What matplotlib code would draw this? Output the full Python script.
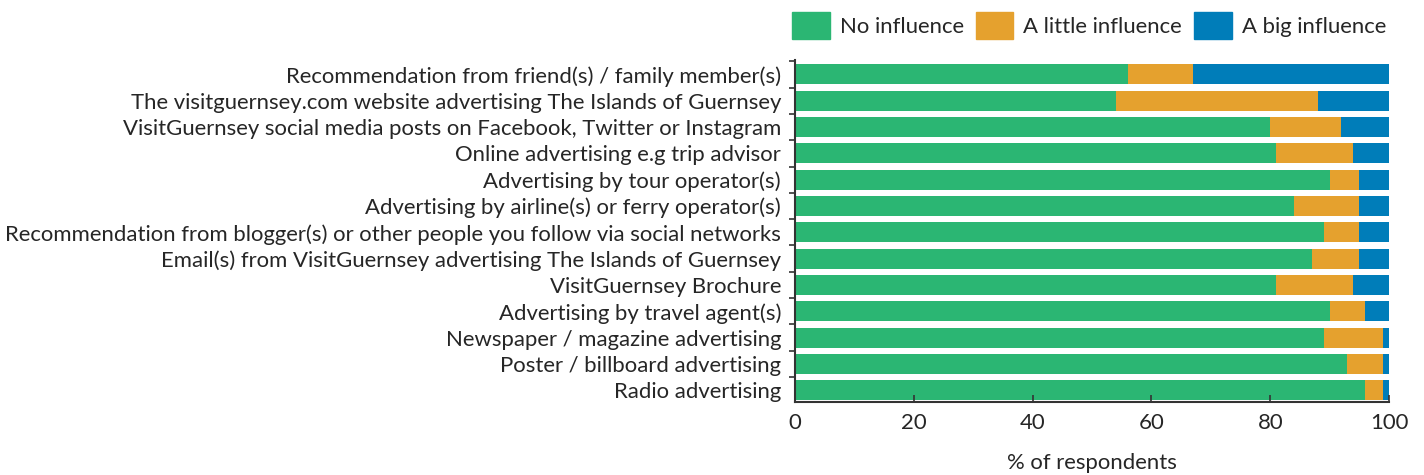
import numpy as np
import matplotlib.pyplot as plt
from matplotlib.patches import Patch

plt.rcParams['font.family'] = ['Lato', 'DejaVu Sans']

#categories, top to bottom
labels = ['Recommendation from friend(s) / family member(s)',
          'The visitguernsey.com website advertising The Islands of Guernsey',
          'VisitGuernsey social media posts on Facebook, Twitter or Instagram',
          'Online advertising e.g trip advisor',
          'Advertising by tour operator(s)',
          'Advertising by airline(s) or ferry operator(s)',
          'Recommendation from blogger(s) or other people you follow via social networks',
          'Email(s) from VisitGuernsey advertising The Islands of Guernsey',
          'VisitGuernsey Brochure',
          'Advertising by travel agent(s)',
          'Newspaper / magazine advertising',
          'Poster / billboard advertising',
          'Radio advertising']

#% of respondents
no_infl = [56, 54, 80, 81, 90, 84, 89, 87, 81, 90, 89, 93, 96]
little_infl = [11, 34, 12, 13, 5, 11, 6, 8, 13, 6, 10, 6, 3]
big_infl = [33, 12, 8, 6, 5, 5, 5, 5, 6, 4, 1, 1, 1]

series_names = ['No influence', 'A little influence', 'A big influence']
colours = ['#2bb673', '#e5a12e', '#007db9']
txt_col = '#262626'
fs = 15.9

fig = plt.figure(figsize=(14.24, 4.75), dpi=100)
ax = fig.add_axes([795/1424, 1-402/475, (1389-795)/1424, (402-60)/475])

y = np.arange(len(labels))
left = np.zeros(len(labels))
for vals, c in zip([no_infl, little_infl, big_infl], colours):
    ax.barh(y, vals, left=left, height=0.76, color=c)
    left = left + np.array(vals)

ax.set_xlim(0, 100)
ax.set_ylim(12.45, -0.55)
ax.set_yticks(y)
ax.set_yticklabels(labels, fontsize=fs, color=txt_col)
ax.set_yticks(np.arange(-0.5, 12.5, 1), minor=True)
ax.tick_params(axis='y', which='major', length=0, pad=10)
ax.tick_params(axis='y', which='minor', length=4, width=1.2, color='#333333')
ax.set_xticks([0, 20, 40, 60, 80, 100])
ax.tick_params(axis='x', direction='in', length=5, width=1.2, labelsize=fs,
               labelcolor=txt_col, color='#333333', pad=8)
ax.set_xlabel('% of respondents', fontsize=fs, color=txt_col, labelpad=14)

for s in ['top', 'right']:
    ax.spines[s].set_visible(False)
for s in ['left', 'bottom']:
    ax.spines[s].set_linewidth(1.5)
    ax.spines[s].set_color('#333333')

handles = [Patch(color=c) for c in colours]
fig.legend(handles, series_names, loc='upper left', bbox_to_anchor=(780/1424, 1.0),
           ncol=3, frameon=False, fontsize=fs, labelcolor=txt_col,
           handlelength=1.7, handleheight=1.5, handletextpad=0.45, columnspacing=0.55,
           borderaxespad=0.15)

fig.savefig('out.png', dpi=100)
